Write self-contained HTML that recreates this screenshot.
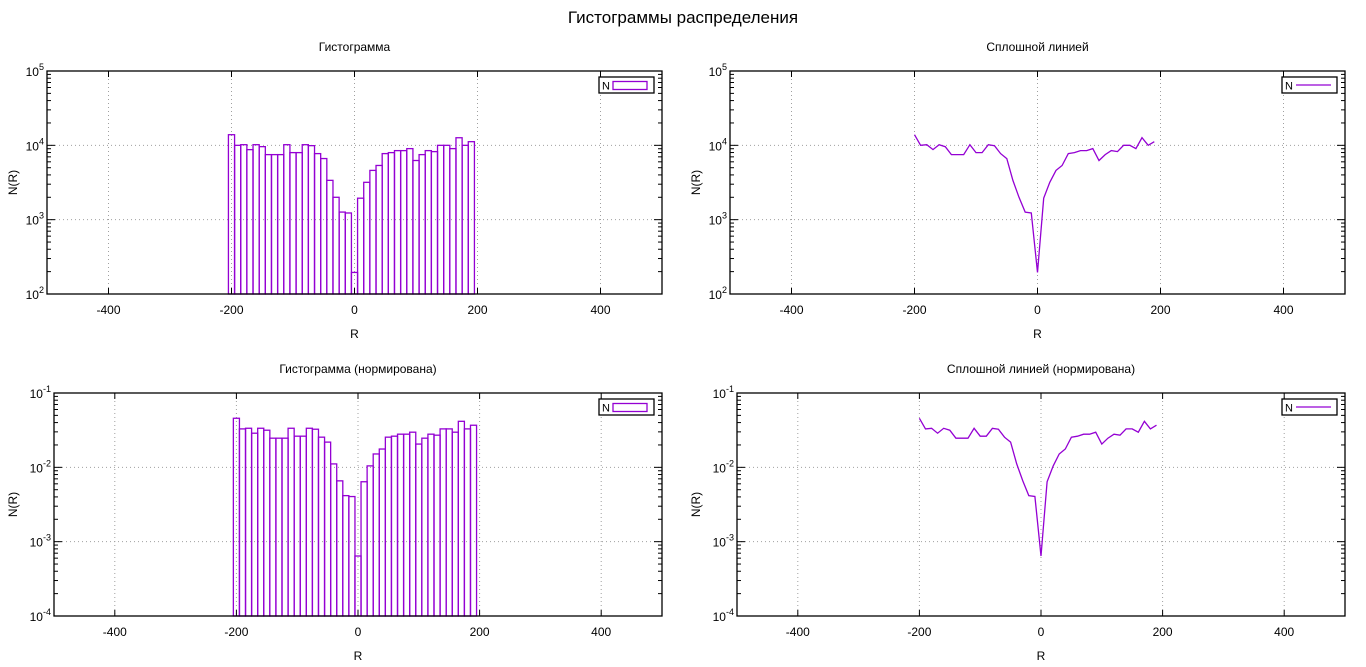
<!DOCTYPE html>
<html><head><meta charset="utf-8"><style>
html,body{margin:0;padding:0;background:#fff;}
svg{display:block;font-family:"Liberation Sans","DejaVu Sans",sans-serif;}
</style></head><body>
<svg id="chart" width="1366" height="667" viewBox="0 0 1366 667" xmlns="http://www.w3.org/2000/svg">
<text x="683" y="23" text-anchor="middle" font-size="17">Гистограммы распределения</text>
</svg>
<script>
const binCenters = [-200,-190,-180,-170,-160,-150,-140,-130,-120,-110,-100,-90,-80,-70,-60,-50,-40,-30,-20,-10,0,10,20,30,40,50,60,70,80,90,100,110,120,130,140,150,160,170,180,190];
const counts = [13900,10000,10200,8750,10200,9600,7500,7500,7500,10200,7980,7980,10200,9900,7740,6640,3380,2000,1265,1230,195,1945,3180,4600,5360,7740,7980,8490,8490,9030,6250,7500,8490,8230,10000,10000,9030,12650,10000,11200];
const xTicks = [-400,-200,0,200,400];
const binWidth = 10;
const total = counts.reduce((a,b)=>a+b,0);
const normalized = counts.map(v=>v/total);

const NS = "http://www.w3.org/2000/svg";
const svg = document.getElementById('chart');
const COLOR = '#9400d3';
function mk(tag, attrs, parent){
  const e = document.createElementNS(NS, tag);
  for (const k in attrs) e.setAttribute(k, attrs[k]);
  (parent||svg).appendChild(e);
  return e;
}

function plot(p){
  const g = mk('g', {});
  
  
  const {L,R,T,B,lo,hi} = p;
  const xs = v => L + (v + 500) / 1000 * (R - L);
  const ys = v => B - (Math.log10(v) - lo) / (hi - lo) * (B - T);
  // title
  const t = mk('text', {x:(L+R)/2, y:T-20, 'text-anchor':'middle','font-size':12}, g);
  t.textContent = p.title;
  
  
  // grid
  for (const v of xTicks) {
    const l = mk('line', {x1:xs(v), x2:xs(v), y1:T, y2:B, stroke:'#a0a0a0','stroke-dasharray':'1,3','stroke-width':1}, g);
    
    
  }
  for (let d = lo+1; d < hi; d++) {
    const l = mk('line', {x1:L, x2:R, y1:ys(Math.pow(10,d)), y2:ys(Math.pow(10,d)), stroke:'#a0a0a0','stroke-dasharray':'1,3','stroke-width':1}, g);
    
    
  }
  // data
  const vals = p.values;
  if (p.type === 'bar') {
    for (let i = 0; i < binCenters.length; i++) {
      const x0 = xs(binCenters[i] - binWidth/2), x1 = xs(binCenters[i] + binWidth/2);
      const y = ys(vals[i]);
      const r = mk('rect', {x:x0, y:y, width:x1-x0, height:B-y, fill:'none', stroke:COLOR, 'stroke-width':1.3}, g);
      
      
    }
  } else {
    const pts = binCenters.map((c,i)=>xs(c).toFixed(1)+','+ys(vals[i]).toFixed(1)).join(' ');
    const pl = mk('polyline', {points:pts, fill:'none', stroke:COLOR, 'stroke-width':1.3}, g);
    
    
  }
  // frame
  const fr = mk('rect', {x:L, y:T, width:R-L, height:B-T, fill:'none', stroke:'#000', 'stroke-width':1.3}, g);
  
  
  // x ticks
  for (const v of xTicks) {
    mk('line', {x1:xs(v), x2:xs(v), y1:B, y2:B-6, stroke:'#000'}, g);
    mk('line', {x1:xs(v), x2:xs(v), y1:T, y2:T+6, stroke:'#000'}, g);
    const tl = mk('text', {x:xs(v), y:B+20, 'text-anchor':'middle','font-size':12}, g);
    tl.textContent = v;
    
    
  }
  // y ticks
  for (let d = lo; d <= hi; d++) {
    const y = ys(Math.pow(10,d));
    mk('line', {x1:L, x2:L+8, y1:y, y2:y, stroke:'#000'}, g);
    mk('line', {x1:R, x2:R-8, y1:y, y2:y, stroke:'#000'}, g);
    const tl = mk('text', {x:L-3, y:y+5, 'text-anchor':'end','font-size':12}, g);
    
    
    const s1 = mk('tspan', {}, tl); s1.textContent = '10';
    const s2 = mk('tspan', {dy:-6, 'font-size':9}, tl); s2.textContent = String(d);
    if (d < hi) for (let m = 2; m <= 9; m++) {
      const ym = ys(m*Math.pow(10,d));
      mk('line', {x1:L, x2:L+4, y1:ym, y2:ym, stroke:'#000'}, g);
      mk('line', {x1:R, x2:R-4, y1:ym, y2:ym, stroke:'#000'}, g);
    }
  }
  // axis labels
  const xl = mk('text', {x:xs(0), y:B+44, 'text-anchor':'middle','font-size':12}, g);
  xl.textContent = 'R';
  
  
  const yx = p.ylabX, yy = (T+B)/2;
  const yl = mk('text', {x:yx, y:yy, 'text-anchor':'middle','font-size':12, transform:`rotate(-90 ${yx} ${yy})`}, g);
  yl.textContent = 'N(R)';
  
  
  // legend
  const lg = mk('g', {}, g);
  
  
  mk('rect', {x:R-63, y:T+6, width:55, height:16, fill:'#fff', stroke:'#000','stroke-width':1.3}, lg);
  const ln = mk('text', {x:R-60, y:T+18.5, 'font-size':11}, lg);
  ln.textContent = 'N';
  if (p.type === 'bar') mk('rect', {x:R-49, y:T+10.5, width:34, height:8, fill:'none', stroke:COLOR,'stroke-width':1.3}, lg);
  else mk('line', {x1:R-49, x2:R-14, y1:T+14, y2:T+14, stroke:COLOR,'stroke-width':1.3}, lg);
}

plot({name:'histogram-plot', title:'Гистограмма', type:'bar', values:counts, L:47, R:662, T:71, B:294, lo:2, hi:5, ylabX:17});
plot({name:'line-plot', title:'Сплошной линией', type:'line', values:counts, L:730, R:1345, T:71, B:294, lo:2, hi:5, ylabX:700});
plot({name:'normalized-histogram-plot', title:'Гистограмма (нормирована)', type:'bar', values:normalized, L:54, R:662, T:393, B:616, lo:-4, hi:-1, ylabX:17});
plot({name:'normalized-line-plot', title:'Сплошной линией (нормирована)', type:'line', values:normalized, L:737, R:1345, T:393, B:616, lo:-4, hi:-1, ylabX:700});
</script>
</body></html>
